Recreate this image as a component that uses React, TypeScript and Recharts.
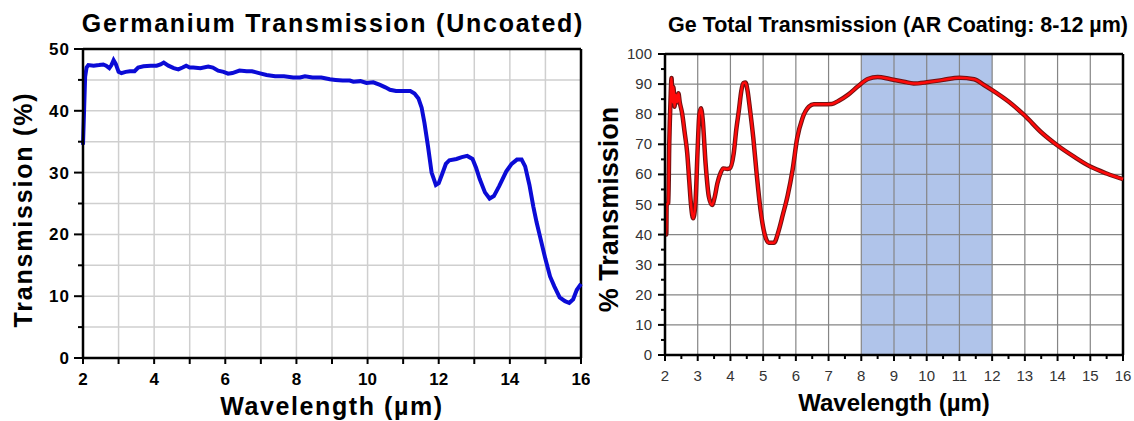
import React from "react";
import {
  LineChart,
  Line,
  XAxis,
  YAxis,
  CartesianGrid,
  ReferenceLine,
  ReferenceArea,
} from "recharts";

const FONT = '"Liberation Sans", Arial, Helvetica, sans-serif';

// Germanium, uncoated (left panel)
const uncoatedWl = [
  2.0, 2.03, 2.06, 2.1, 2.15, 2.3, 2.45, 2.57, 2.65, 2.74,
  2.8, 2.86, 2.92, 3.0, 3.08, 3.2, 3.32, 3.45, 3.55, 3.7,
  3.9, 4.07, 4.18, 4.27, 4.4, 4.55, 4.68, 4.8, 4.9, 5.0,
  5.1, 5.3, 5.52, 5.65, 5.8, 5.95, 6.08, 6.2, 6.4, 6.6,
  6.75, 6.95, 7.16, 7.4, 7.65, 7.91, 8.1, 8.24, 8.45, 8.7,
  8.94, 9.1, 9.3, 9.5, 9.6, 9.8, 9.97, 10.16, 10.35, 10.5,
  10.63, 10.8, 11.0, 11.2, 11.32, 11.43, 11.52, 11.6, 11.7, 11.8,
  11.92, 12.0, 12.1, 12.2, 12.3, 12.5, 12.65, 12.8, 12.95, 13.05,
  13.15, 13.3, 13.43, 13.55, 13.7, 13.9, 14.05, 14.2, 14.33, 14.43,
  14.55, 14.66, 14.75, 14.85, 15.0, 15.13, 15.25, 15.4, 15.55, 15.67,
  15.78, 15.88, 16.0,
];
const uncoatedT = [
  34.5, 40.0, 45.5, 47.0, 47.4, 47.3, 47.4, 47.5, 47.3, 46.9,
  47.4, 48.2, 47.6, 46.3, 46.1, 46.3, 46.4, 46.4, 47.0, 47.2,
  47.3, 47.3, 47.5, 47.8, 47.3, 46.9, 46.7, 47.0, 47.3, 47.0,
  47.0, 46.9, 47.15, 47.0, 46.5, 46.3, 46.0, 46.1, 46.5, 46.4,
  46.4, 46.1, 45.8, 45.6, 45.6, 45.4, 45.4, 45.6, 45.4, 45.4,
  45.1, 45.0, 44.9, 44.9, 44.7, 44.8, 44.5, 44.6, 44.2, 43.8,
  43.4, 43.2, 43.2, 43.2, 42.8, 42.0, 40.5, 38.0, 34.2, 30.0,
  28.0, 28.3, 29.8, 31.4, 32.0, 32.2, 32.5, 32.7, 32.2, 30.8,
  29.0, 26.8, 25.8, 26.2, 27.8, 30.2, 31.4, 32.1, 32.1, 31.0,
  28.0, 24.5, 22.0, 19.6, 16.0, 13.2, 11.6, 9.8, 9.2, 8.9,
  9.5, 11.0, 12.0,
];
const leftXTicks = [2, 3, 4, 5, 6, 7, 8, 9, 10, 11, 12, 13, 14, 15, 16];
const leftYTicks = [0, 5, 10, 15, 20, 25, 30, 35, 40, 45, 50];

// Germanium with 8-12 um AR coating (right panel)
const coatedWl = [
  2.0, 2.04, 2.05, 2.1, 2.13, 2.17, 2.2, 2.23, 2.26, 2.29,
  2.33, 2.37, 2.41, 2.45, 2.52, 2.6, 2.68, 2.74, 2.8, 2.86,
  2.93, 3.0, 3.05, 3.1, 3.15, 3.24, 3.34, 3.44, 3.52, 3.6,
  3.7, 3.78, 3.9, 3.98, 4.1, 4.18, 4.26, 4.33, 4.39, 4.46,
  4.52, 4.6, 4.7, 4.8, 4.92, 5.04, 5.17, 5.33, 5.48, 5.6,
  5.75, 5.9, 6.04, 6.2, 6.4, 6.55, 6.8, 7.1, 7.3, 7.6,
  7.9, 8.2, 8.5, 8.9, 9.3, 9.6, 10.0, 10.5, 11.0, 11.45,
  11.75, 12.0, 12.5, 13.0, 13.5, 14.0, 14.5, 15.0, 15.5, 16.0,
];
const coatedT = [
  40.0, 40.0, 50.0, 50.5, 70.0, 85.0, 92.0, 84.0, 89.0, 82.5,
  86.5, 84.0, 87.0, 84.0, 80.5, 74.0, 67.0, 58.0, 49.3, 45.4,
  50.4, 69.0, 80.0, 82.0, 78.5, 63.7, 52.6, 49.8, 52.5, 57.0,
  60.5, 62.0, 61.8, 62.0, 67.0, 75.0, 81.4, 87.5, 90.3, 90.5,
  88.0, 81.4, 72.0, 60.4, 48.2, 40.4, 37.3, 37.3, 41.5, 46.5,
  53.0, 61.5, 72.0, 78.6, 82.5, 83.3, 83.3, 83.4, 84.4, 86.5,
  89.3, 91.7, 92.4, 91.6, 90.8, 90.2, 90.6, 91.4, 92.1, 91.6,
  89.7, 88.0, 84.2, 79.5, 74.0, 69.6, 65.9, 62.6, 60.3, 58.4,
];
const rightXTicks = [
  2, 2.5, 3, 3.5, 4, 4.5, 5, 5.5, 6, 6.5, 7, 7.5, 8, 8.5, 9, 9.5,
  10, 10.5, 11, 11.5, 12, 12.5, 13, 13.5, 14, 14.5, 15, 15.5, 16,
];
const rightYTicks = [0, 5, 10, 15, 20, 25, 30, 35, 40, 45, 50, 55, 60, 65, 70, 75, 80, 85, 90, 95, 100];
const rightGridX = [2, 3, 4, 5, 6, 7, 8, 9, 10, 11, 12, 13, 14, 15, 16];
const rightGridY = [0, 10, 20, 30, 40, 50, 60, 70, 80, 90, 100];
const arBand = [8, 12];

const uncoatedData = uncoatedWl.map((wl, i) => ({ wl, t: uncoatedT[i] }));
const coatedData = coatedWl.map((wl, i) => ({ wl, t: coatedT[i] }));

function LeftXTick(props: any) {
  const { x, y, payload } = props;
  const major = payload.value % 2 === 0;
  return (
    <g>
      <line x1={x} x2={x} y1={y} y2={y + 6} stroke="#000" strokeWidth={2} />
      {major && (
        <text x={x} y={y + 27} textAnchor="middle" fontFamily={FONT} fontWeight="bold" fontSize={17} fill="#000">
          {payload.value}
        </text>
      )}
    </g>
  );
}

function LeftYTick(props: any) {
  const { x, y, payload } = props;
  const major = payload.value % 10 === 0;
  return (
    <g>
      <line x1={x - (major ? 9 : 5)} x2={x} y1={y} y2={y} stroke="#000" strokeWidth={2} />
      {major && (
        <text x={x - 13} y={y + 6} textAnchor="end" fontFamily={FONT} fontWeight="bold" fontSize={17} letterSpacing={1} fill="#000">
          {payload.value}
        </text>
      )}
    </g>
  );
}

function RightXTick(props: any) {
  const { x, y, payload } = props;
  const major = Number.isInteger(payload.value);
  return (
    <g>
      <line x1={x} x2={x} y1={y} y2={y + (major ? 6 : 4)} stroke="#000" strokeWidth={2} />
      {major && (
        <text x={x} y={y + 26} textAnchor="middle" fontFamily={FONT} fontSize={15} fill="#333">
          {payload.value}
        </text>
      )}
    </g>
  );
}

function RightYTick(props: any) {
  const { x, y, payload } = props;
  const major = payload.value % 10 === 0;
  return (
    <g>
      <line x1={x - (major ? 7 : 4)} x2={x} y1={y} y2={y} stroke="#000" strokeWidth={2} />
      {major && (
        <text x={x - 13} y={y + 5} textAnchor="end" fontFamily={FONT} fontSize={15} fill="#333">
          {payload.value}
        </text>
      )}
    </g>
  );
}

// rotated axis title, centred on the plot height
function YTitle(p: any) {
  const vb = p.viewBox;
  const cy = vb.y + vb.height / 2 + p.shift;
  return (
    <text
      transform={`translate(${vb.x + p.base}, ${cy}) rotate(-90)`}
      textAnchor="middle"
      fontFamily={FONT}
      fontWeight="bold"
      fontSize={p.size}
      letterSpacing={p.spacing}
      fill="#000"
    >
      {p.text}
    </text>
  );
}

function XTitle(p: any) {
  const vb = p.viewBox;
  return (
    <text
      x={vb.x + vb.width / 2}
      y={vb.y + p.base}
      textAnchor="middle"
      fontFamily={FONT}
      fontWeight="bold"
      fontSize={p.size}
      letterSpacing={p.spacing}
      fill="#000"
    >
      {p.text}
    </text>
  );
}

const titleStyle: React.CSSProperties = {
  position: "absolute",
  fontFamily: FONT,
  fontWeight: "bold",
  color: "#000",
  textAlign: "center",
  whiteSpace: "nowrap",
};

export default function App() {
  return (
    <div style={{ position: "absolute", left: 0, top: 0, width: 1134, height: 421, background: "#fff", overflow: "hidden" }}>
      <div style={{ ...titleStyle, left: 0, width: 666, top: 11, fontSize: 25, lineHeight: "25px", letterSpacing: 1.75 }}>
        Germanium Transmission (Uncoated)
      </div>
      <div style={{ ...titleStyle, left: 660, width: 476, top: 15, fontSize: 21.5, lineHeight: "21px" }}>
        Ge Total Transmission (AR Coating: 8-12 µm)
      </div>

      <div style={{ position: "absolute", left: 0, top: 0 }}>
        <LineChart width={590} height={421} data={uncoatedData} margin={{ top: 49, right: 9, bottom: 0, left: 0 }}>
          <CartesianGrid stroke="#cfcfcf" strokeWidth={1.5} />
          <XAxis
            dataKey="wl"
            type="number"
            domain={[2, 16]}
            ticks={leftXTicks}
            interval={0}
            height={63}
            tickSize={0}
            tickMargin={0}
            tick={<LeftXTick />}
            axisLine={{ stroke: "#000", strokeWidth: 2.5 }}
            label={{ content: (p: any) => <XTitle viewBox={p.viewBox} base={57} size={25} spacing={1.6} text="Wavelength (µm)" /> }}
          />
          <YAxis
            type="number"
            domain={[0, 50]}
            ticks={leftYTicks}
            interval={0}
            width={83}
            tickSize={0}
            tickMargin={0}
            tick={<LeftYTick />}
            axisLine={{ stroke: "#000", strokeWidth: 2.5 }}
            label={{ content: (p: any) => <YTitle viewBox={p.viewBox} base={32} shift={6} size={25} spacing={1.8} text="Transmission (%)" /> }}
          />
          <ReferenceLine y={50} stroke="#000" strokeWidth={2.5} />
          <ReferenceLine x={16} stroke="#000" strokeWidth={2.5} />
          <Line
            type="linear"
            dataKey="t"
            stroke="#0b0bd6"
            strokeWidth={4}
            dot={false}
            isAnimationActive={false}
          />
        </LineChart>
      </div>

      <div style={{ position: "absolute", left: 590, top: 0 }}>
        <LineChart width={544} height={421} data={coatedData} margin={{ top: 54, right: 11, bottom: 0, left: 0 }}>
          <ReferenceArea x1={arBand[0]} x2={arBand[1]} fill="#b0c4ea" fillOpacity={1} stroke="none" zIndex={-200} />
          <CartesianGrid stroke="#858585" strokeWidth={1.2} verticalValues={rightGridX} horizontalValues={rightGridY} />
          <XAxis
            dataKey="wl"
            type="number"
            domain={[2, 16]}
            ticks={rightXTicks}
            interval={0}
            height={66}
            tickSize={0}
            tickMargin={0}
            tick={<RightXTick />}
            axisLine={{ stroke: "#000", strokeWidth: 2.5 }}
            label={{ content: (p: any) => <XTitle viewBox={p.viewBox} base={56} size={24} spacing={0} text="Wavelength (µm)" /> }}
          />
          <YAxis
            type="number"
            domain={[0, 100]}
            ticks={rightYTicks}
            interval={0}
            width={75}
            tickSize={0}
            tickMargin={0}
            tick={<RightYTick />}
            axisLine={{ stroke: "#000", strokeWidth: 2.5 }}
            label={{ content: (p: any) => <YTitle viewBox={p.viewBox} base={28} shift={5} size={27} spacing={0} text="% Transmission" /> }}
          />
          <ReferenceLine y={100} stroke="#000" strokeWidth={2.5} />
          <ReferenceLine x={16} stroke="#000" strokeWidth={2.5} />
          <Line
            type="monotone"
            dataKey="t"
            stroke="#701212"
            strokeWidth={4.5}
            dot={false}
            isAnimationActive={false}
          />
          <Line
            type="monotone"
            dataKey="t"
            stroke="#ff0a0a"
            strokeWidth={2.5}
            dot={false}
            isAnimationActive={false}
          />
        </LineChart>
      </div>
    </div>
  );
}
